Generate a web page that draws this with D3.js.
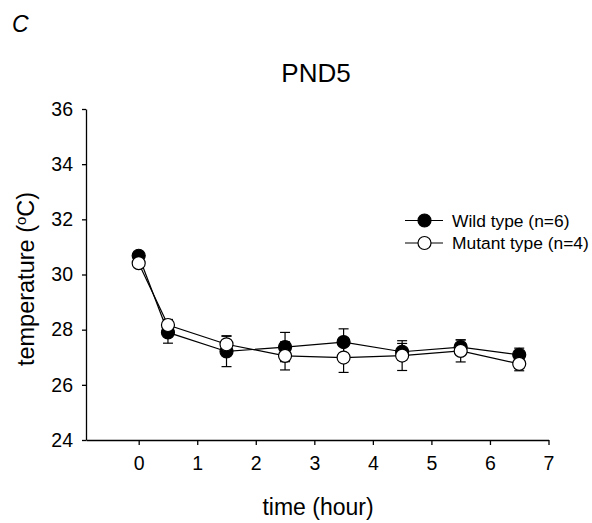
<!DOCTYPE html>
<html>
<head>
<meta charset="utf-8">
<script src="https://cdn.jsdelivr.net/npm/d3@7"></script>
<style>
  body { margin: 0; background: #fff; }
  svg { font-family: "Liberation Sans", Arial, sans-serif; }
</style>
</head>
<body>
<div id="chart"></div>
<script>
// values
const times = [0, 0.5, 1.5, 2.5, 3.5, 4.5, 5.5, 6.5];
const wild = [30.68, 27.9, 27.21, 27.37, 27.55, 27.2, 27.37, 27.09];
const wildSE = [0.1, 0.39, 0.55, 0.53, 0.48, 0.3, 0.26, 0.24];
const mutant = [30.41, 28.17, 27.47, 27.05, 26.99, 27.06, 27.23, 26.76];
const mutantSE = [0.1, 0.2, 0.31, 0.51, 0.54, 0.54, 0.4, 0.25];
const seriesNames = ["Wild type (n=6)", "Mutant type (n=4)"];
const xTicks = [0, 1, 2, 3, 4, 5, 6, 7];
const yTicks = [24, 26, 28, 30, 32, 34, 36];

const width = 592, height = 523;
const svg = d3.select("#chart").append("svg")
    .attr("width", width)
    .attr("height", height);

const x = d3.scaleLinear().domain([-0.9, 7]).range([86, 548.5]);
const y = d3.scaleLinear().domain([24, 36]).range([440, 109]);

// axes
const xAxis = svg.append("g")
    .attr("transform", `translate(0,${y(24)})`)
    .call(d3.axisBottom(x).tickValues(xTicks).tickSize(5).tickSizeOuter(0).tickPadding(11));
const yAxis = svg.append("g")
    .attr("transform", `translate(${x(-0.9)},0)`)
    .call(d3.axisLeft(y).tickValues(yTicks).tickSize(4).tickSizeOuter(0).tickPadding(9));
[xAxis, yAxis].forEach(a => {
    a.selectAll("path, line").attr("stroke", "#000").attr("stroke-width", 1.3);
    a.selectAll("text").attr("font-size", 19.5).attr("fill", "#000")
        .style("font-family", '"Liberation Sans", Arial, sans-serif');
});

const series = [
    { name: seriesNames[0], vals: wild, se: wildSE, fill: "#000" },
    { name: seriesNames[1], vals: mutant, se: mutantSE, fill: "#fff" }
];

const line = d3.line().x((d, i) => x(times[i])).y(d => y(d));

// connecting lines
series.forEach(s => {
    svg.append("path")
        .attr("d", line(s.vals))
        .attr("fill", "none")
        .attr("stroke", "#000")
        .attr("stroke-width", 1.2);
});

// error bars
series.forEach(s => {
    const g = svg.append("g").attr("stroke", "#000").attr("stroke-width", 1.2);
    s.vals.forEach((v, i) => {
        const cx = x(times[i]);
        g.append("line").attr("x1", cx).attr("x2", cx)
            .attr("y1", y(v - s.se[i])).attr("y2", y(v + s.se[i]));
        [v - s.se[i], v + s.se[i]].forEach(e => {
            g.append("line").attr("x1", cx - 5).attr("x2", cx + 5)
                .attr("y1", y(e)).attr("y2", y(e));
        });
    });
});

// markers
series.forEach(s => {
    svg.append("g").selectAll("circle")
        .data(s.vals)
        .join("circle")
        .attr("cx", (d, i) => x(times[i]))
        .attr("cy", d => y(d))
        .attr("r", 6.5)
        .attr("fill", s.fill)
        .attr("stroke", "#000")
        .attr("stroke-width", 1.2);
});

// legend
series.forEach((s, i) => {
    const ly = 220.5 + i * 22.5;
    svg.append("line").attr("x1", 405).attr("x2", 443)
        .attr("y1", ly).attr("y2", ly)
        .attr("stroke", "#000").attr("stroke-width", 1.2);
    svg.append("circle").attr("cx", 424.5).attr("cy", ly).attr("r", 6.5)
        .attr("fill", s.fill).attr("stroke", "#000").attr("stroke-width", 1.2);
    svg.append("text").attr("x", 452).attr("y", ly + 6)
        .attr("font-size", 17.4).text(s.name);
});

// titles
svg.append("text").attr("x", 12).attr("y", 32)
    .attr("font-size", 23).attr("font-style", "italic").text("C");
svg.append("text").attr("x", 316).attr("y", 82)
    .attr("text-anchor", "middle").attr("font-size", 26).text("PND5");
svg.append("text").attr("x", 318).attr("y", 515)
    .attr("text-anchor", "middle").attr("font-size", 23).text("time (hour)");

const yl = svg.append("text")
    .attr("transform", `translate(34,${279}) rotate(-90)`)
    .attr("text-anchor", "middle").attr("font-size", 23.5);
yl.append("tspan").text("temperature (");
yl.append("tspan").attr("font-size", 15).attr("dy", -8).text("o");
yl.append("tspan").attr("dy", 8).text("C)");
</script>
</body>
</html>
